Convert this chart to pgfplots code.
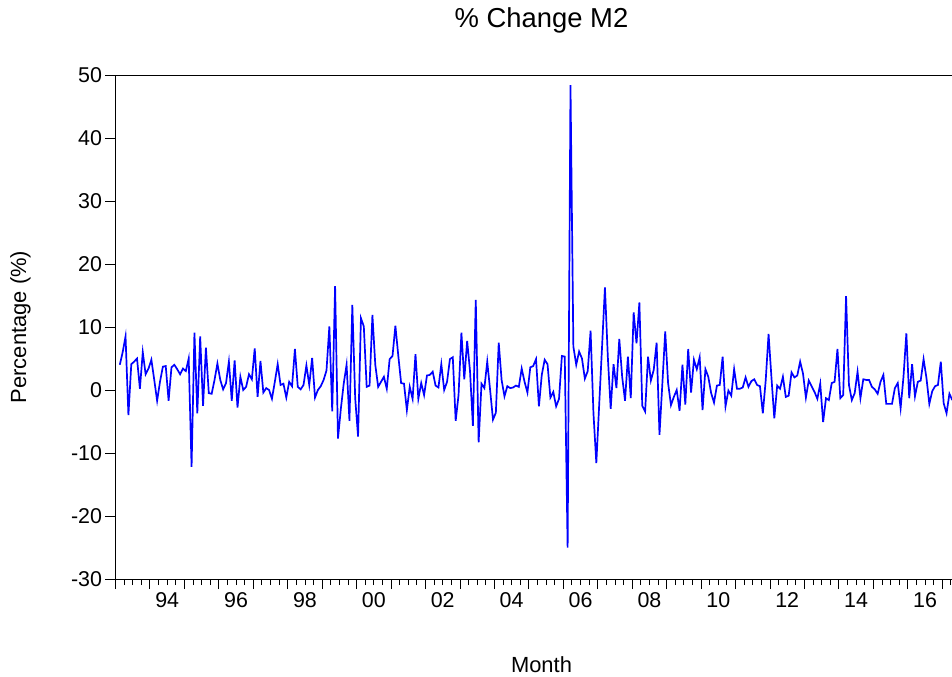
\documentclass[border=0pt]{standalone}
\usepackage{fontspec}
\setmainfont{Liberation Sans}
\usepackage{pgfplots}
\pgfplotsset{compat=1.18}

\begin{document}
\begin{tikzpicture}
\begin{axis}[
    scale only axis,
    width=852bp, height=504bp,
    xmin=-1.5, xmax=295.3,
    ymin=-30, ymax=50,
    axis line style={line width=0.9pt},
    tick style={line width=0.9pt, black},
    tick align=outside, tick pos=left,
    major tick length=10bp, minor tick length=6bp,
    xtick={-1.5,10.5,...,298.5}, xticklabels={},
    minor x tick num=3,
    extra x ticks={16.5,40.5,...,280.5},
    extra x tick labels={94,96,98,00,02,04,06,08,10,12,14,16},
    extra x tick style={tick style={draw=none}},
    ytick={-30,-20,...,50},
    yticklabels={-30,-20,-10,0,10,20,30,40,50},
    tick label style={font=\fontsize{21.5}{24}\selectfont},
    title={\% Change M2},
    title style={font=\fontsize{27.5}{30}\selectfont, at={(axis description cs:0.5,1.096)}, anchor=center},
    xlabel={Month},
    xlabel style={font=\fontsize{22}{25}\selectfont, at={(axis description cs:0.5,-0.1706)}, anchor=center},
    ylabel={Percentage (\%)},
    ylabel style={font=\fontsize{22}{25}\selectfont, at={(axis description cs:-0.1115,0.5)}, anchor=center},
]
% monthly % change, index 0 = 1993M2
\addplot[blue, line width=1.7pt] coordinates {
(0,4.0)(1,6.0)(2,8.5)(3,-4.0)(4,4.1)(5,4.5)(6,5.0)(7,0.2)(8,6.0)(9,2.5)
(10,3.4)(11,4.8)(12,1.6)(13,-1.7)(14,1.3)(15,3.7)(16,3.8)(17,-1.7)(18,3.6)(19,4.0)
(20,3.3)(21,2.5)(22,3.4)(23,3.0)(24,5.0)(25,-12.2)(26,9.1)(27,-3.7)(28,8.5)(29,-2.5)
(30,6.7)(31,-0.5)(32,-0.6)(33,1.6)(34,4.2)(35,1.6)(36,0.1)(37,1.1)(38,4.5)(39,-1.7)
(40,4.7)(41,-2.8)(42,2.1)(43,0.0)(44,0.5)(45,2.5)(46,1.7)(47,6.6)(48,-1.1)(49,4.6)
(50,-0.4)(51,0.3)(52,0.0)(53,-1.4)(54,1.3)(55,4.1)(56,0.8)(57,1.0)(58,-1.2)(59,1.3)
(60,0.6)(61,6.5)(62,0.5)(63,0.1)(64,0.8)(65,3.9)(66,0.8)(67,5.1)(68,-1.2)(69,0.0)
(70,0.6)(71,1.6)(72,3.1)(73,10.1)(74,-3.4)(75,16.5)(76,-7.7)(77,-3.0)(78,1.0)(79,4.0)
(80,-4.9)(81,13.5)(82,-1.3)(83,-7.4)(84,11.4)(85,10.1)(86,0.5)(87,0.7)(88,11.9)(89,4.0)
(90,0.5)(91,1.3)(92,2.1)(93,0.2)(94,4.9)(95,5.4)(96,10.2)(97,5.5)(98,1.1)(99,1.0)
(100,-3.2)(101,0.5)(102,-1.4)(103,5.7)(104,-1.4)(105,1.1)(106,-0.8)(107,2.3)(108,2.4)(109,2.9)
(110,0.7)(111,0.4)(112,4.1)(113,0.0)(114,1.3)(115,4.9)(116,5.2)(117,-4.9)(118,-0.8)(119,9.1)
(120,1.7)(121,7.8)(122,3.0)(123,-5.7)(124,14.3)(125,-8.3)(126,1.0)(127,0.3)(128,4.5)(129,0.0)
(130,-4.7)(131,-3.6)(132,7.5)(133,1.6)(134,-1.0)(135,0.6)(136,0.3)(137,0.4)(138,0.7)(139,0.5)
(140,3.4)(141,1.3)(142,-0.4)(143,3.6)(144,3.8)(145,4.9)(146,-2.6)(147,2.4)(148,4.8)(149,4.1)
(150,-1.2)(151,-0.3)(152,-2.6)(153,-1.4)(154,5.4)(155,5.3)(156,-25.0)(157,48.4)(158,6.9)(159,4.0)
(160,6.1)(161,5.0)(162,1.8)(163,3.0)(164,9.4)(165,-3.7)(166,-11.6)(167,-2.3)(168,6.9)(169,16.3)
(170,5.3)(171,-3.0)(172,4.1)(173,0.3)(174,8.1)(175,2.1)(176,-1.7)(177,5.3)(178,-1.3)(179,12.3)
(180,7.4)(181,13.9)(182,-2.5)(183,-3.4)(184,5.3)(185,1.5)(186,3.2)(187,7.5)(188,-7.1)(189,1.0)
(190,9.3)(191,1.1)(192,-2.4)(193,-1.1)(194,0.0)(195,-3.3)(196,4.0)(197,-2.3)(198,6.5)(199,-0.4)
(200,4.8)(201,3.3)(202,5.2)(203,-3.2)(204,3.3)(205,2.1)(206,-0.5)(207,-2.0)(208,0.7)(209,0.8)
(210,5.3)(211,-2.6)(212,-0.1)(213,-0.9)(214,3.3)(215,0.2)(216,0.2)(217,0.4)(218,2.0)(219,0.5)
(220,1.4)(221,1.7)(222,0.8)(223,0.6)(224,-3.7)(225,1.5)(226,8.9)(227,2.0)(228,-4.5)(229,0.7)
(230,0.2)(231,2.1)(232,-1.1)(233,-0.9)(234,2.8)(235,2.0)(236,2.3)(237,4.5)(238,2.6)(239,-1.2)
(240,1.5)(241,0.6)(242,-0.3)(243,-1.4)(244,1.0)(245,-5.1)(246,-1.3)(247,-1.6)(248,1.1)(249,1.3)
(250,6.5)(251,-1.3)(252,-0.8)(253,14.9)(254,0.8)(255,-1.6)(256,-0.5)(257,2.9)(258,-1.3)(259,1.7)
(260,1.6)(261,1.6)(262,0.5)(263,0.1)(264,-0.6)(265,1.3)(266,2.4)(267,-2.2)(268,-2.2)(269,-2.2)
(270,0.3)(271,1.1)(272,-2.9)(273,2.1)(274,9.0)(275,-1.3)(276,4.1)(277,-1.0)(278,1.3)(279,1.5)
(280,4.9)(281,1.9)(282,-2.2)(283,-0.2)(284,0.6)(285,0.8)(286,4.5)(287,-2.1)(288,-3.7)(289,-0.6)
(290,-1.6)
};
\coordinate (bl) at (rel axis cs:0,0);
\end{axis}
\pgfresetboundingbox
\path[use as bounding box] ([xshift=-115.5bp,yshift=-98bp]bl) rectangle ([xshift=836.5bp,yshift=579bp]bl);
\end{tikzpicture}
\end{document}
